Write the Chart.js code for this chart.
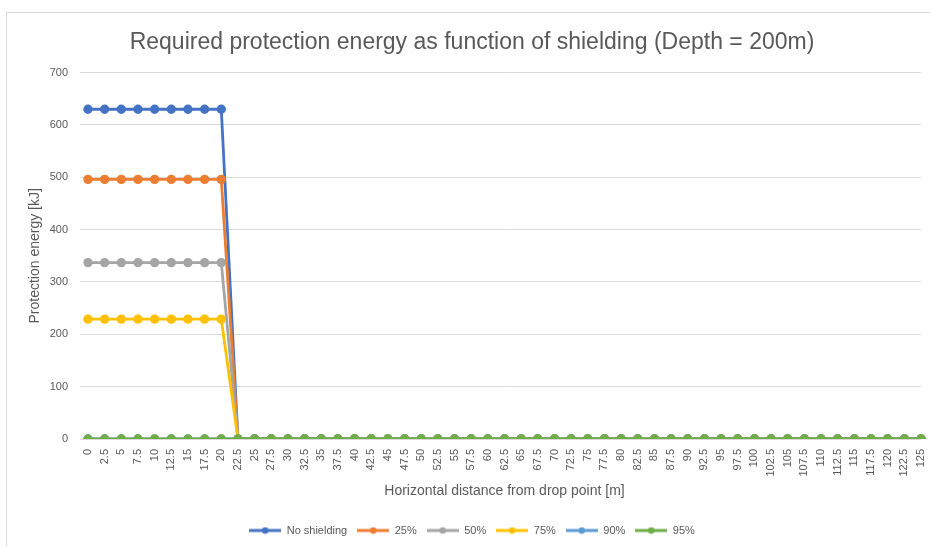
<!DOCTYPE html>
<html>
<head>
<meta charset="utf-8">
<script src="https://cdn.jsdelivr.net/npm/chart.js@4"></script>
<style>
html,body{margin:0;padding:0;background:#fff;}
#wrap{position:relative;width:930px;height:546px;}
</style>
</head>
<body>
<div id="wrap"><canvas id="myChart" width="930" height="546"></canvas></div>
<script>
// horizontal distance from drop point [m]
var categories=[
  "0","2.5","5","7.5","10","12.5","15","17.5","20","22.5","25","27.5","30","32.5","35","37.5","40",
  "42.5","45","47.5","50","52.5","55","57.5","60","62.5","65","67.5","70","72.5","75","77.5","80",
  "82.5","85","87.5","90","92.5","95","97.5","100","102.5","105","107.5","110","112.5","115","117.5",
  "120","122.5","125"
];

var noShielding=[630,630,630,630,630,630,630,630,630,
  0,0,0,0,0,0,0,0,0,0,0,0,0,0,
  0,0,0,0,0,0,0,0,0,0,0,0,0,0,
  0,0,0,0,0,0,0,0,0,0,0,0,0,0];
var shield25=[496,496,496,496,496,496,496,496,496,
  0,0,0,0,0,0,0,0,0,0,0,0,0,0,
  0,0,0,0,0,0,0,0,0,0,0,0,0,0,
  0,0,0,0,0,0,0,0,0,0,0,0,0,0];
var shield50=[337,337,337,337,337,337,337,337,337,
  0,0,0,0,0,0,0,0,0,0,0,0,0,0,
  0,0,0,0,0,0,0,0,0,0,0,0,0,0,
  0,0,0,0,0,0,0,0,0,0,0,0,0,0];
var shield75=[229,229,229,229,229,229,229,229,229,
  0,0,0,0,0,0,0,0,0,0,0,0,0,0,
  0,0,0,0,0,0,0,0,0,0,0,0,0,0,
  0,0,0,0,0,0,0,0,0,0,0,0,0,0];
var shield90=[0,0,0,0,0,0,0,0,0,
  0,0,0,0,0,0,0,0,0,0,0,0,0,0,
  0,0,0,0,0,0,0,0,0,0,0,0,0,0,
  0,0,0,0,0,0,0,0,0,0,0,0,0,0];
var shield95=[0,0,0,0,0,0,0,0,0,
  0,0,0,0,0,0,0,0,0,0,0,0,0,0,
  0,0,0,0,0,0,0,0,0,0,0,0,0,0,
  0,0,0,0,0,0,0,0,0,0,0,0,0,0];

var seriesNames=["No shielding","25%","50%","75%","90%","95%"];
var seriesColors=["#4472C4","#ED7D31","#A5A5A5","#FFC000","#5B9BD5","#70AD47"];
var seriesData=[noShielding,shield25,shield50,shield75,shield90,shield95];

var fontFam="'Liberation Sans Narrow','Liberation Sans',sans-serif";
var txtColor="#595959";

// light frame round the chart, like the excel chart area
var framePlugin={
  id:'frame',
  beforeDraw:function(chart){
    var c=chart.ctx;
    c.save();
    c.strokeStyle="#d9d9d9";
    c.lineWidth=1;
    c.strokeRect(6.5,12.5,940,600);
    c.restore();
  }
};

// little line-with-marker icon for the legend
function legendIcon(color){
  var cv=document.createElement('canvas');
  cv.width=32;cv.height=8;
  var c=cv.getContext('2d');
  c.strokeStyle=color;
  c.fillStyle=color;
  c.lineWidth=3;
  c.beginPath();c.moveTo(0,4);c.lineTo(32,4);c.stroke();
  c.beginPath();c.arc(16,4,3.3,0,Math.PI*2);c.fill();
  return cv;
}

var datasets=seriesNames.map(function(name,i){
  return {
    label:name,
    data:seriesData[i],
    borderColor:seriesColors[i],
    backgroundColor:seriesColors[i],
    borderWidth:2.8,
    pointRadius:3.3,
    pointHoverRadius:3.3,
    tension:0,
    order:seriesNames.length-i   // later series on top, like excel
  };
});

const ctx=document.getElementById('myChart').getContext('2d');
const myChart=new Chart(ctx,{
  type:'line',
  data:{labels:categories,datasets:datasets},
  plugins:[framePlugin],
  options:{
    responsive:false,
    animation:false,
    layout:{padding:{left:23,right:9,top:0,bottom:0}},
    plugins:{
      title:{
        display:true,
        text:"Required protection energy as function of shielding (Depth = 200m)",
        color:txtColor,
        font:{family:fontFam,size:23,weight:'normal'},
        padding:{top:29,bottom:16}
      },
      legend:{
        position:'bottom',
        labels:{
          color:txtColor,
          font:{family:fontFam,size:11},
          usePointStyle:true,
          pointStyleWidth:32,
          boxHeight:8,
          padding:10,
          sort:function(a,b){return a.datasetIndex-b.datasetIndex;},
          generateLabels:function(chart){
            var items=Chart.defaults.plugins.legend.labels.generateLabels(chart);
            items.forEach(function(it){
              it.pointStyle=legendIcon(seriesColors[it.datasetIndex]);
            });
            return items;
          }
        }
      },
      tooltip:{enabled:false}
    },
    scales:{
      x:{
        offset:false,
        grid:{display:false},
        border:{display:false},
        afterFit:function(scale){scale.height=76;scale.paddingRight=0;},
        ticks:{
          color:txtColor,
          font:{family:fontFam,size:11},
          maxRotation:90,
          minRotation:90,
          autoSkip:false,
          padding:2
        },
        title:{
          display:true,
          text:"Horizontal distance from drop point [m]",
          color:txtColor,
          font:{family:fontFam,size:14},
          padding:{top:4,bottom:15}
        }
      },
      y:{
        min:0,
        max:700,
        grid:{color:"#d9d9d9",tickLength:8,drawTicks:true},
        border:{display:false},
        afterFit:function(scale){scale.width=65;},
        ticks:{
          stepSize:100,
          color:txtColor,
          font:{family:fontFam,size:11},
          padding:12
        },
        title:{
          display:true,
          text:"Protection energy [kJ]",
          color:txtColor,
          font:{family:fontFam,size:14}
        }
      }
    }
  }
});
</script>
</body>
</html>
